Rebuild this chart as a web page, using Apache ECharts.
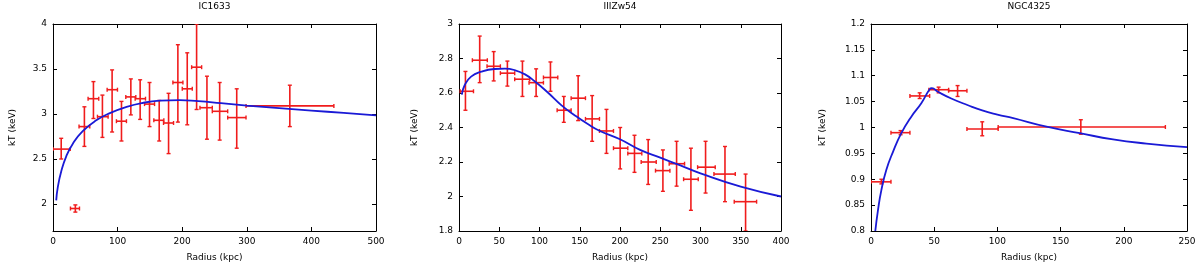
<!DOCTYPE html>
<html>
<head>
<meta charset="utf-8">
<script src="https://cdn.jsdelivr.net/npm/echarts@6/dist/echarts.min.js"></script>
<style>
html,body{margin:0;padding:0;background:#fff;}
#chart{width:1200px;height:266px;}
</style>
</head>
<body>
<div id="chart"></div>
<script>
// ---------- IC1633 ----------
const ic1633_r    = [12.7, 34.6, 48.6, 62.6, 76.5, 91.5, 106, 120.5, 134.9, 149.4, 164.4, 178.9, 193.3, 207.8, 222.3, 238.3, 258, 284.4, 366.6];
const ic1633_rlo  = [0, 27, 40.3, 54.3, 68.8, 83.8, 98.2, 112.7, 127.2, 141.7, 156.1, 171.1, 185.6, 200.1, 214.6, 227.5, 246.6, 270.4, 298.8];
const ic1633_rhi  = [26.7, 41, 56.9, 70.8, 85.3, 99.8, 113.7, 128.2, 143.2, 157.2, 171.6, 186.6, 201.1, 215.6, 230.1, 246.6, 270.4, 298.8, 434.8];
const ic1633_kt   = [2.61, 1.95, 2.86, 3.17, 2.97, 3.27, 2.92, 3.19, 3.17, 3.11, 2.93, 2.90, 3.35, 3.28, 3.52, 3.07, 3.03, 2.96, 3.09];
const ic1633_ktlo = [2.50, 1.91, 2.64, 2.95, 2.74, 2.80, 2.70, 2.99, 2.94, 2.86, 2.70, 2.56, 2.91, 2.88, 3.05, 2.72, 2.71, 2.62, 2.86];
const ic1633_kthi = [2.73, 1.99, 3.08, 3.36, 3.21, 3.49, 3.14, 3.39, 3.38, 3.35, 3.15, 3.23, 3.77, 3.68, 4.00, 3.42, 3.35, 3.28, 3.32];
const ic1633_fitR  = [5, 7.5, 12.7, 20.5, 30.7, 46, 67, 88, 114, 140, 165, 196, 225, 260, 300, 350, 400, 450, 500];
const ic1633_fitKT = [2.04, 2.19, 2.36, 2.53, 2.67, 2.81, 2.93, 3.01, 3.08, 3.125, 3.148, 3.155, 3.142, 3.12, 3.094, 3.065, 3.038, 3.012, 2.985];

// ---------- IIIZw54 ----------
const iiizw54_r    = [8, 25.7, 43.1, 60.1, 78.8, 95.8, 113.6, 130.2, 148, 165.4, 183.2, 200.2, 218, 235, 253.3, 270.3, 288.1, 306.3, 330.4, 356];
const iiizw54_rlo  = [1.5, 16.6, 34.8, 51.4, 69.2, 87, 104.9, 121.9, 139.3, 157.1, 174.5, 191.9, 209.7, 226.3, 244.1, 261.1, 279, 296.4, 316.7, 341.9];
const iiizw54_rhi  = [18, 35.2, 51.4, 69.2, 87.9, 104.9, 122.7, 139.3, 157.1, 174.5, 191.9, 209.7, 227.1, 245, 262, 280.2, 297.2, 318.3, 343.2, 369.7];
const iiizw54_kt   = [2.61, 2.79, 2.755, 2.715, 2.68, 2.66, 2.69, 2.50, 2.57, 2.45, 2.38, 2.28, 2.25, 2.20, 2.15, 2.19, 2.10, 2.17, 2.13, 1.97];
const iiizw54_ktlo = [2.50, 2.66, 2.67, 2.64, 2.58, 2.58, 2.61, 2.43, 2.44, 2.32, 2.25, 2.16, 2.14, 2.07, 2.03, 2.06, 1.92, 2.02, 1.97, 1.80];
const iiizw54_kthi = [2.725, 2.93, 2.84, 2.785, 2.785, 2.74, 2.78, 2.58, 2.70, 2.585, 2.505, 2.40, 2.355, 2.33, 2.27, 2.32, 2.28, 2.32, 2.29, 2.13];
const iiizw54_fitR  = [3.5, 7, 15, 28, 44, 57, 69, 82, 94, 111, 127, 144, 160, 175, 200, 225, 250, 275, 300, 350, 400];
const iiizw54_fitKT = [2.59, 2.645, 2.695, 2.724, 2.739, 2.741, 2.733, 2.708, 2.668, 2.6, 2.53, 2.47, 2.42, 2.38, 2.332, 2.27, 2.225, 2.18, 2.134, 2.057, 2.0];

// ---------- NGC4325 ----------
const ngc4325_r    = [8.2, 23.4, 38.5, 53.5, 68.5, 88, 166];
const ngc4325_rlo  = [0, 15.8, 30.8, 45.8, 61.4, 75.9, 100.6];
const ngc4325_rhi  = [15.8, 30.8, 46.4, 61.4, 75.9, 100.6, 232.9];
const ngc4325_kt   = [0.895, 0.990, 1.061, 1.073, 1.071, 0.997, 1.001];
const ngc4325_ktlo = [0.891, 0.986, 1.056, 1.067, 1.060, 0.984, 0.987];
const ngc4325_kthi = [0.900, 0.994, 1.067, 1.078, 1.081, 1.011, 1.015];
const ngc4325_fitR  = [3.4, 5.5, 8.2, 12.1, 17.4, 24, 31.9, 39.8, 46.4, 48.2, 53, 63.5, 76.7, 88, 100, 112.5, 138.9, 165.2, 191.5, 217.9, 250];
const ngc4325_fitKT = [0.8, 0.84, 0.879, 0.918, 0.953, 0.989, 1.021, 1.047, 1.074, 1.076, 1.069, 1.056, 1.043, 1.033, 1.025, 1.018, 1.0015, 0.989, 0.977, 0.969, 0.962];

// ---------- axis ticks ----------
const ic1633_xTicks  = {min: 0, max: 500, interval: 100};
const ic1633_yTicks  = [2, 2.5, 3, 3.5, 4];
const iiizw54_xTicks = {min: 0, max: 400, interval: 50};
const iiizw54_yTicks = [1.8, 2, 2.2, 2.4, 2.6, 2.8, 3];
const ngc4325_xTicks = {min: 0, max: 250, interval: 50};
const ngc4325_yTicks = [0.8, 0.85, 0.9, 0.95, 1, 1.05, 1.1, 1.15, 1.2];

const titles = ['IC1633', 'IIIZw54', 'NGC4325'];
const xName = 'Radius (kpc)';
const yName = 'kT (keV)';

const FONT = 'DejaVu Sans';
const FS = 9;
const RED = '#f01c1c';
const BLUE = '#1a1ad6';

const panels = [
  {left: 53, width: 323, yMin: 1.7, yMax: 4, xt: ic1633_xTicks, yt: ic1633_yTicks, yGap: 36,
   r: ic1633_r, rlo: ic1633_rlo, rhi: ic1633_rhi, kt: ic1633_kt, ktlo: ic1633_ktlo, kthi: ic1633_kthi, fr: ic1633_fitR, fk: ic1633_fitKT},
  {left: 459, width: 322, yMin: 1.8, yMax: 3, xt: iiizw54_xTicks, yt: iiizw54_yTicks, yGap: 40,
   r: iiizw54_r, rlo: iiizw54_rlo, rhi: iiizw54_rhi, kt: iiizw54_kt, ktlo: iiizw54_ktlo, kthi: iiizw54_kthi, fr: iiizw54_fitR, fk: iiizw54_fitKT},
  {left: 871, width: 316, yMin: 0.8, yMax: 1.2, xt: ngc4325_xTicks, yt: ngc4325_yTicks, yGap: 44,
   r: ngc4325_r, rlo: ngc4325_rlo, rhi: ngc4325_rhi, kt: ngc4325_kt, ktlo: ngc4325_ktlo, kthi: ngc4325_kthi, fr: ngc4325_fitR, fk: ngc4325_fitKT}
];

const TOP = 24, HEIGHT = 207;
const grid = [], xAxis = [], yAxis = [], series = [], graphic = [];
const axisLine = {show: true, onZero: false, lineStyle: {color: '#000', width: 1}};
const fmt = v => String(+(+v).toFixed(2));

function errItem(params, api) {
  const x = api.value(0), y = api.value(1);
  const xlo = api.value(2), xhi = api.value(3), ylo = api.value(4), yhi = api.value(5);
  const l = api.coord([xlo, y]), r = api.coord([xhi, y]);
  const b = api.coord([x, ylo]), t = api.coord([x, yhi]);
  const cap = 2;
  const st = {stroke: RED, lineWidth: 1.6};
  const ln = (x1, y1, x2, y2, w) => ({type: 'line', shape: {x1, y1, x2, y2}, style: Object.assign({}, st, w ? {lineWidth: w} : {})});
  return {type: 'group', children: [
    ln(l[0], l[1], r[0], r[1]),
    ln(b[0], b[1], t[0], t[1]),
    ln(l[0], l[1] - cap, l[0], l[1] + cap, 1.4),
    ln(r[0], r[1] - cap, r[0], r[1] + cap, 1.4),
    ln(t[0] - cap, t[1], t[0] + cap, t[1], 1.4),
    ln(b[0] - cap, b[1], b[0] + cap, b[1], 1.4)
  ]};
}

panels.forEach((p, i) => {
  grid.push({left: p.left, top: TOP, width: p.width, height: HEIGHT, outerBoundsMode: 'none', containLabel: false});
  const xBase = {type: 'value', gridIndex: i, min: p.xt.min, max: p.xt.max, interval: p.xt.interval,
    axisLine, splitLine: {show: false}, axisTick: {inside: true, length: 4, lineStyle: {color: '#000'}}};
  xAxis.push(Object.assign({}, xBase, {position: 'bottom',
    axisLabel: {color: '#000', fontSize: FS, fontFamily: FONT, margin: 6, formatter: fmt},
    name: xName, nameLocation: 'middle', nameGap: 22,
    nameTextStyle: {color: '#000', fontSize: FS, fontFamily: FONT}}));
  xAxis.push(Object.assign({}, xBase, {position: 'top', axisLabel: {show: false}}));
  const yBase = {type: 'value', gridIndex: i, min: p.yMin, max: p.yMax,
    axisLine, splitLine: {show: false},
    axisTick: {inside: true, length: 4, lineStyle: {color: '#000'}, customValues: p.yt}};
  yAxis.push(Object.assign({}, yBase, {position: 'left',
    axisLabel: {color: '#000', fontSize: FS, fontFamily: FONT, margin: 6, customValues: p.yt, formatter: fmt},
    name: yName, nameLocation: 'middle', nameGap: p.yGap,
    nameTextStyle: {color: '#000', fontSize: FS, fontFamily: FONT}}));
  yAxis.push(Object.assign({}, yBase, {position: 'right', axisLabel: {show: false, customValues: p.yt}}));

  const errData = p.r.map((v, k) => [v, p.kt[k], p.rlo[k], p.rhi[k], p.ktlo[k], p.kthi[k]]);
  series.push({type: 'custom', xAxisIndex: 2 * i, yAxisIndex: 2 * i, renderItem: errItem,
    data: errData, encode: {x: 0, y: 1}, clip: true, z: 2, silent: true, animation: false});
  series.push({type: 'line', xAxisIndex: 2 * i, yAxisIndex: 2 * i,
    data: p.fr.map((v, k) => [v, p.fk[k]]), showSymbol: false, symbol: 'none', smooth: 0.5,
    lineStyle: {color: BLUE, width: 1.8}, clip: true, z: 3, silent: true, animation: false});

  graphic.push({type: 'text', x: p.left + p.width / 2, y: 7,
    style: {text: titles[i], align: 'center', verticalAlign: 'middle', fill: '#000', font: FS + 'px "' + FONT + '"'}});
});

const chart = echarts.init(document.getElementById('chart'), null, {renderer: 'canvas'});
chart.setOption({animation: false, backgroundColor: '#fff', grid, xAxis, yAxis, series, graphic});
</script>
</body>
</html>
